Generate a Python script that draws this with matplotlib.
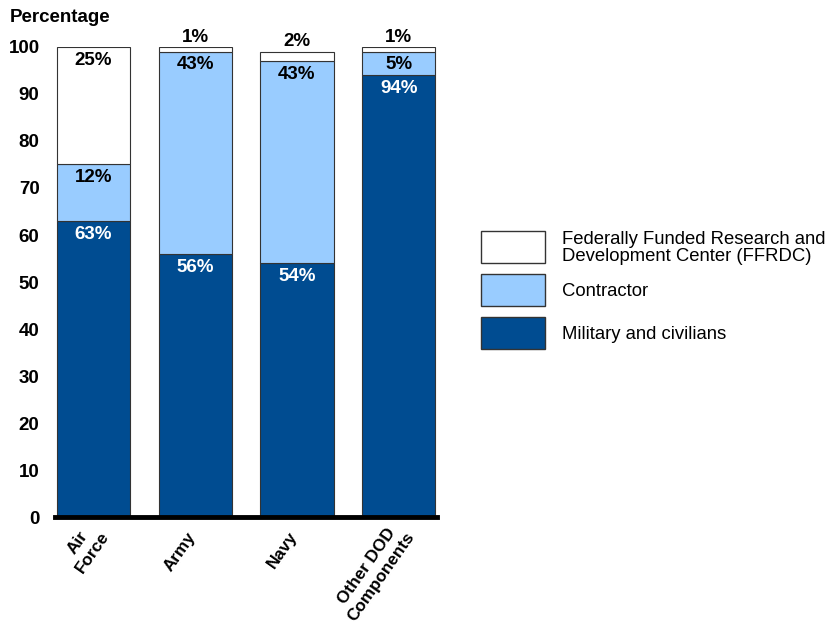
import matplotlib.pyplot as plt
import matplotlib.transforms as mtransforms
from matplotlib.patches import Rectangle
import numpy as np

plt.rcParams['font.family'] = ['Liberation Sans', 'DejaVu Sans']

categories = ['Air\nForce', 'Army', 'Navy', 'Other DOD\nComponents']
military = [63, 56, 54, 94]
contractor = [12, 43, 43, 5]
ffrdc = [25, 1, 2, 1]
series_names = ['Military and civilians', 'Contractor',
                'Federally Funded Research and\nDevelopment Center (FFRDC)']

dark = '#004c91'
light = '#99ccff'
white = '#ffffff'
edge = '#333333'

fig = plt.figure(figsize=(8.3, 6.26), dpi=100)
ax = fig.add_axes([0.066, 0.174, 0.461, 0.751])

x = np.arange(len(categories))
w = 0.72
b1 = ax.bar(x, military, w, color=dark, edgecolor=edge, linewidth=0.8)
b2 = ax.bar(x, contractor, w, bottom=military, color=light, edgecolor=edge, linewidth=0.8)
bottom3 = np.array(military) + np.array(contractor)
b3 = ax.bar(x, ffrdc, w, bottom=bottom3, color=white, edgecolor=edge, linewidth=0.8)

# labels near top of each segment
fs = 13.5
for i in range(len(categories)):
    ax.text(x[i], military[i] - 1.0, f'{military[i]}%', ha='center', va='top',
            color='white', fontsize=fs, fontweight='bold')
    ax.text(x[i], bottom3[i] - 1.0, f'{contractor[i]}%', ha='center', va='top',
            color='black', fontsize=fs, fontweight='bold')
    top = bottom3[i] + ffrdc[i]
    if ffrdc[i] >= 5:
        ax.text(x[i], top - 1.0, f'{ffrdc[i]}%', ha='center', va='top',
                color='black', fontsize=fs, fontweight='bold')
    else:
        ax.text(x[i], top + 0.3, f'{ffrdc[i]}%', ha='center', va='bottom',
                color='black', fontsize=fs, fontweight='bold')

ax.set_xlim(-0.38, 3.38)
ax.set_ylim(0, 100)
ax.set_yticks(range(0, 101, 10))
ax.set_xticks(x)
ax.set_xticklabels([])
for lab in ax.get_yticklabels():
    lab.set_fontweight('bold')
    lab.set_fontsize(13.5)
ax.tick_params(axis='both', length=0)
ax.tick_params(axis='y', pad=11)
for s in ['left', 'top', 'right']:
    ax.spines[s].set_visible(False)
ax.spines['bottom'].set_linewidth(3.5)
ax.spines['bottom'].set_color('black')

# rotated category labels, two-line ones centred like the original
for i, name in enumerate(categories):
    if '\n' in name:
        dx, dy = 19, -2
    else:
        dx, dy = 3, -12
    tr = ax.get_xaxis_transform() + mtransforms.ScaledTranslation(dx / 100, dy / 100, fig.dpi_scale_trans)
    ax.text(x[i], 0, name, transform=tr, rotation=55, ha='right', va='top',
            multialignment='center', fontsize=12.3, fontweight='bold',
            linespacing=1.25, clip_on=False)

fig.text(10 / 830, 1 - 17 / 626, 'Percentage', fontsize=13.5, fontweight='bold', va='center')

# legend drawn manually to match the spacing of the original
leg_colors = [white, light, dark]
leg_names = [series_names[2], series_names[1], series_names[0]]
W, H = 830, 626
for k, (c, name) in enumerate(zip(leg_colors, leg_names)):
    top = 231 + 43 * k
    fig.patches.append(Rectangle((481 / W, 1 - (top + 32) / H), 64 / W, 32 / H,
                                 transform=fig.transFigure, facecolor=c,
                                 edgecolor=edge, linewidth=1.0))
    fig.text(562 / W, 1 - (top + 17) / H, name, fontsize=13.3, va='center',
             ha='left', linespacing=1.05)

fig.savefig('out.png', dpi=100)
